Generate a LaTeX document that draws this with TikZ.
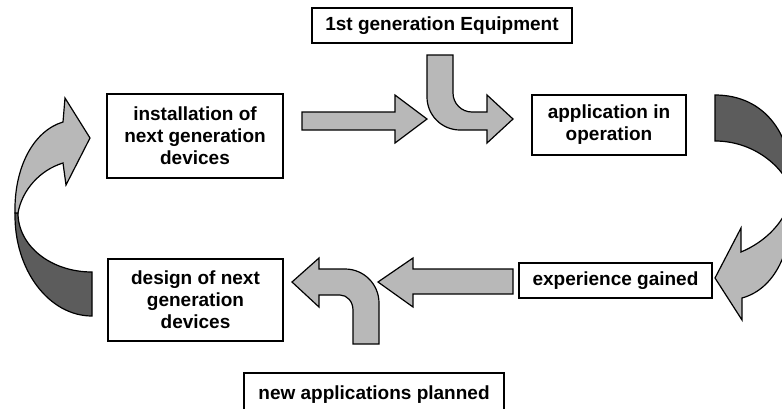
\documentclass[tikz,border=0pt]{standalone}
\usepackage{fontspec}
\setmainfont{Liberation Sans}
\definecolor{lightfill}{gray}{0.72}
\definecolor{darkfill}{gray}{0.36}
\tikzset{
  box/.style={draw=black, line width=1.3pt, fill=white, align=center,
    font=\bfseries\fontsize{19}{22}\selectfont, inner sep=0pt},
  blockarrow/.style={draw=black, line width=1.2pt, line join=miter, fill=lightfill},
  backside/.style={draw=black, line width=1.2pt, line join=miter, fill=darkfill},
}
\begin{document}
\begin{tikzpicture}[x=1pt,y=-1pt]
\useasboundingbox (0,0) rectangle (782,408);
\clip (0,0) rectangle (782,408);

% left curved arrow
\draw[backside] (15,213) .. controls (14,270) and (49,316) .. (92,316)
  -- (92,272) .. controls (51,272) and (18,246) .. (18,213) -- cycle;
\draw[blockarrow] (15,213) .. controls (14,168) and (33,131) .. (63,122)
  -- (65,98) -- (90,138) -- (66,185) -- (63,163)
  .. controls (40,170) and (22,190) .. (18,213) -- cycle;

% right curved arrow
\draw[backside] (715,95) .. controls (765,95) and (795,135) .. (792,195)
  .. controls (790,175) and (760,141) .. (715,141) -- cycle;
\draw[blockarrow] (792,195) .. controls (794,245) and (778,288) .. (742,298)
  -- (742,320) -- (715,278) -- (741,228) -- (741,252)
  .. controls (765,242) and (786,222) .. (792,195) -- cycle;

% top straight arrow
\draw[blockarrow] (302,112) -- (395,112) -- (395,95) -- (427,119) -- (395,143)
  -- (395,130) -- (302,130) -- cycle;

% top bent arrow
\draw[blockarrow] (427,55) -- (453,55) -- (453,93)
  .. controls (453,103.5) and (461.5,112) .. (472,112) -- (487,112) -- (487,95)
  -- (513,119) -- (487,143) -- (487,130) -- (460,130)
  .. controls (441.8,130) and (427,115.2) .. (427,97) -- cycle;

% bottom straight arrow
\draw[blockarrow] (513,269) -- (413,269) -- (413,258) -- (378,282) -- (413,307)
  -- (413,294) -- (513,294) -- cycle;

% bottom bent arrow
\draw[blockarrow] (353,344) -- (379,344) -- (379,303)
  .. controls (379,284.2) and (363.8,269) .. (345,269) -- (319,269) -- (319,258)
  -- (292,282) -- (319,307) -- (319,295) -- (340,295)
  .. controls (347.2,295) and (353,301.7) .. (353,310) -- cycle;

% boxes
\node[box, minimum width=260pt, minimum height=35pt] (first) at (442,25.5) {1st generation Equipment};
\node[box, minimum width=176pt, minimum height=84pt] (inst) at (195,136) {installation of\\next generation\\devices};
\node[box, minimum width=175pt, minimum height=82pt] (design) at (195.5,300) {design of next\\generation\\devices};
\node[box, minimum width=154pt, minimum height=60pt] (app) at (609,125) {application in\\operation};
\node[box, minimum width=193pt, minimum height=35pt] (exp) at (615.5,280.5) {experience gained};
\node[box, minimum width=260pt, minimum height=44pt] (newapp) at (374,395) {new applications planned};
\end{tikzpicture}
\end{document}
